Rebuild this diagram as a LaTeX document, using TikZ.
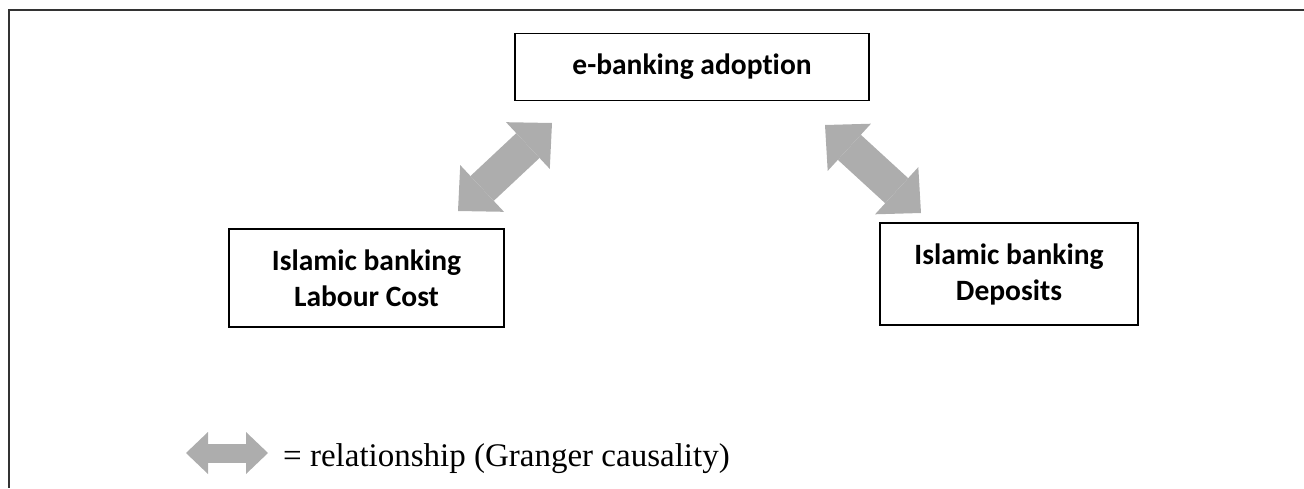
\documentclass[tikz,border=0pt]{standalone}
\usepackage{fontspec}
\setmainfont{Liberation Serif}
\newfontfamily\boxfont[Ligatures={NoCommon}]{Carlito}
\usetikzlibrary{arrows.meta}
\definecolor{arrowgray}{HTML}{ADADAD}
\definecolor{framegray}{HTML}{333333}
\tikzset{
  varbox/.style={draw=black, line width=1.6pt, inner sep=0pt, align=center,
    font=\boxfont\bfseries\fontsize{29.5}{36}\selectfont},
  blockarrow/.style={arrowgray, line width=34pt,
    arrows={Triangle[width=64pt,length=33pt,line width=0pt]-Triangle[width=64pt,length=33pt,line width=0pt]}},
  legendarrow/.style={arrowgray, line width=19pt,
    arrows={Triangle[width=42pt,length=22pt,line width=0pt]-Triangle[width=42pt,length=22pt,line width=0pt]}},
}
\begin{document}
\begin{tikzpicture}[x=1pt,y=-1pt]
\useasboundingbox (0,0) rectangle (1304,488);
% open frame: only the top and left sides are visible
\draw[framegray, line width=2pt] (1304,10) -- (9,10) -- (9,488);

% variables
\node[varbox, minimum width=354pt, minimum height=67pt] (ebank) at (692,67) {e-banking adoption};
\node[varbox, minimum width=275pt, minimum height=98pt] (labour) at (366.5,278) {Islamic banking\\Labour Cost};
\node[varbox, minimum width=258pt, minimum height=102pt] (deposits) at (1009,274) {Islamic banking\\Deposits};

% free ends of the two-way relationships
\coordinate (l1) at (458,211);
\coordinate (l2) at (552,123);
\coordinate (r1) at (825,125);
\coordinate (r2) at (921,213);
\draw[blockarrow] (l1) -- (l2);
\draw[blockarrow] (r1) -- (r2);

% legend
\coordinate (g1) at (186,453);
\coordinate (g2) at (268,453);
\draw[legendarrow] (g1) -- (g2);
\node[anchor=base west, inner sep=0pt, font=\fontsize{33}{36}\selectfont] (legend) at (283,466) {= relationship (Granger causality)};
\end{tikzpicture}
\end{document}
